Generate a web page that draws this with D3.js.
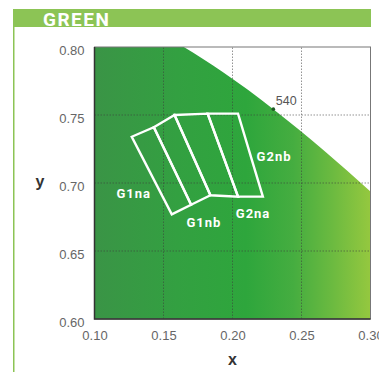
<!DOCTYPE html>
<html>
<head>
<meta charset="utf-8">
<script src="https://cdn.jsdelivr.net/npm/d3@7"></script>
<style>
  html, body { margin: 0; padding: 0; background: #fff; }
  svg { display: block; }
</style>
</head>
<body>
<svg id="chart" width="379" height="372"></svg>
<script>
// Axis ticks
const xTicks = [0.10, 0.15, 0.20, 0.25, 0.30];
const yTicks = [0.60, 0.65, 0.70, 0.75, 0.80];

// CIE 1931 spectral locus, green part (nm, x, y)
const locusNm = [520, 525, 530, 535, 540, 545, 550, 555, 560];
const locusX  = [0.0743, 0.1142, 0.1547, 0.1929, 0.2296, 0.2658, 0.3016, 0.3373, 0.3731];
const locusY  = [0.8338, 0.8262, 0.8059, 0.7816, 0.7543, 0.7243, 0.6923, 0.6589, 0.6245];
const markedNm = 540;

// Chromaticity bins (corner points x, y)
const binNames = ["G1na", "G1nb", "G2na", "G2nb"];
const binCorners = [
  [[0.127, 0.734], [0.143, 0.741], [0.170, 0.684], [0.156, 0.677]],
  [[0.143, 0.741], [0.158, 0.750], [0.184, 0.691], [0.170, 0.684]],
  [[0.158, 0.750], [0.182, 0.751], [0.204, 0.690], [0.184, 0.691]],
  [[0.182, 0.751], [0.204, 0.751], [0.222, 0.690], [0.204, 0.690]]
];
// Where each bin name sits (x, y)
const binLabelAt = [[0.1284, 0.6926], [0.1793, 0.6713], [0.2149, 0.6779], [0.2301, 0.7193]];

const svg = d3.select("#chart");
const W = 379, H = 372;

// Header band
svg.append("rect").attr("x", 13).attr("y", 9).attr("width", 358).attr("height", 18)
  .attr("fill", "#8cc455");
svg.append("rect").attr("x", 13).attr("y", 27).attr("width", 1.5).attr("height", H - 27)
  .attr("fill", "#8cc455");
svg.append("text").attr("x", 43).attr("y", 26)
  .attr("font-family", "Roboto, sans-serif").attr("font-weight", 700)
  .attr("font-size", 19).attr("letter-spacing", 1.5).attr("fill", "#fff")
  .text("GREEN");

const x = d3.scaleLinear().domain([0.10, 0.30]).range([94.5, 370.5]);
const y = d3.scaleLinear().domain([0.60, 0.80]).range([319, 47]);

const defs = svg.append("defs");
defs.append("clipPath").attr("id", "plotClip").append("rect")
  .attr("x", x(0.10)).attr("y", y(0.80))
  .attr("width", x(0.30) - x(0.10)).attr("height", y(0.60) - y(0.80));

const grad = defs.append("linearGradient").attr("id", "greenFill")
  .attr("gradientUnits", "userSpaceOnUse")
  .attr("x1", x(0.10)).attr("x2", x(0.30)).attr("y1", 0).attr("y2", 0);
[[0, "#3a9446"], [0.3, "#33a041"], [0.55, "#2ea63c"], [0.72, "#45ad40"], [0.86, "#6bba40"], [1, "#95c83f"]]
  .forEach(([o, c]) => grad.append("stop").attr("offset", o).attr("stop-color", c));

const plot = svg.append("g").attr("clip-path", "url(#plotClip)");

// Area enclosed by the spectral locus
const locusPts = locusX.map((v, i) => [x(v), y(locusY[i])]);
const locusPath = d3.line().curve(d3.curveCatmullRom)(locusPts);
const areaD = `M${x(0.05)},${y(0.55)}L${x(0.05)},${y(0.85)}` +
  locusPath.replace(/^M/, "L") + `L${x(0.40)},${y(0.55)}Z`;
plot.append("path").attr("d", areaD).attr("fill", "url(#greenFill)");

// Grid
const grid = plot.append("g").attr("stroke", "#3d3d3d").attr("stroke-opacity", 0.55)
  .attr("stroke-width", 1).attr("stroke-dasharray", "1.5,1.5");
xTicks.slice(1, -1).forEach(t => grid.append("line")
  .attr("x1", x(t)).attr("x2", x(t)).attr("y1", y(0.60)).attr("y2", y(0.80)));
yTicks.slice(1, -1).forEach(t => grid.append("line")
  .attr("y1", y(t)).attr("y2", y(t)).attr("x1", x(0.10)).attr("x2", x(0.30)));

// Frame
svg.append("rect").attr("x", x(0.10)).attr("y", y(0.80))
  .attr("width", x(0.30) - x(0.10)).attr("height", y(0.60) - y(0.80))
  .attr("fill", "none").attr("stroke", "#777").attr("stroke-width", 1);
svg.append("path")
  .attr("d", `M${x(0.10)},${y(0.80)}V${y(0.60)}H${x(0.30)}`)
  .attr("fill", "none").attr("stroke", "#333").attr("stroke-width", 1.5);

// Marked wavelength
const mi = locusNm.indexOf(markedNm);
svg.append("circle").attr("cx", x(locusX[mi])).attr("cy", y(locusY[mi])).attr("r", 1.8)
  .attr("fill", "#1f5a25");
svg.append("text").attr("x", x(locusX[mi]) + 2.5).attr("y", y(locusY[mi]) - 4)
  .attr("font-family", "Liberation Sans, Arial, sans-serif").attr("font-size", 12.5)
  .attr("fill", "#555").text(markedNm);

// Bins
const binLine = d3.line().x(d => x(d[0])).y(d => y(d[1]));
svg.append("g").selectAll("path").data(binCorners).join("path")
  .attr("d", d => binLine(d) + "Z")
  .attr("fill", "none").attr("stroke", "#fff").attr("stroke-width", 2.4)
  .attr("stroke-linejoin", "miter");
svg.append("g").selectAll("text").data(binNames).join("text")
  .attr("x", (d, i) => x(binLabelAt[i][0]))
  .attr("y", (d, i) => y(binLabelAt[i][1]))
  .attr("dy", "0.36em").attr("text-anchor", "middle")
  .attr("font-family", "Roboto, sans-serif").attr("font-weight", 700)
  .attr("font-size", 13).attr("letter-spacing", 1).attr("fill", "#fff")
  .text(d => d);

// Axes
const axisFont = "Liberation Sans, Arial, sans-serif";
const xAxis = svg.append("g").attr("transform", `translate(0,${y(0.60)})`)
  .call(d3.axisBottom(x).tickValues(xTicks).tickFormat(d3.format(".2f")).tickSize(0).tickPadding(12));
const yAxis = svg.append("g").attr("transform", `translate(${x(0.10)},0)`)
  .call(d3.axisLeft(y).tickValues(yTicks).tickFormat(d3.format(".2f")).tickSize(0).tickPadding(10));
[xAxis, yAxis].forEach(a => {
  a.select(".domain").remove();
  a.selectAll("text").attr("font-family", axisFont).attr("font-size", 13).attr("fill", "#666");
});
yAxis.selectAll("text").attr("dy", "0.55em");

svg.append("text").attr("x", (x(0.10) + x(0.30)) / 2).attr("y", 365)
  .attr("text-anchor", "middle").attr("font-family", axisFont).attr("font-weight", 700)
  .attr("font-size", 16).attr("fill", "#333").text("x");
svg.append("text").attr("x", 40).attr("y", 187)
  .attr("text-anchor", "middle").attr("font-family", axisFont).attr("font-weight", 700)
  .attr("font-size", 16).attr("fill", "#333").text("y");
</script>
</body>
</html>
